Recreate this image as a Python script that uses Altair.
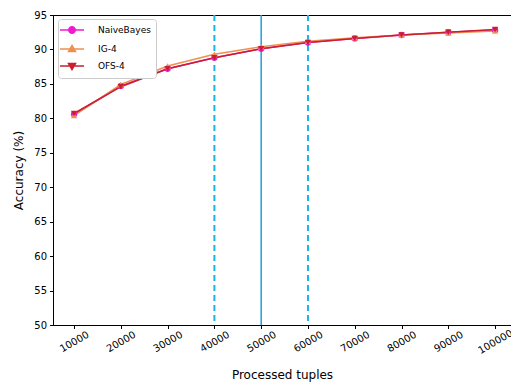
import altair as alt
import pandas as pd

tuples = [10000, 20000, 30000, 40000, 50000, 60000, 70000, 80000, 90000, 100000]
naive_bayes = [80.6, 84.7, 87.2, 88.8, 90.1, 91.0, 91.6, 92.1, 92.5, 92.8]
ig4 = [80.4, 84.9, 87.6, 89.3, 90.4, 91.2, 91.7, 92.1, 92.4, 92.7]
ofs4 = [80.7, 84.6, 87.2, 88.8, 90.1, 91.0, 91.6, 92.1, 92.5, 92.9]
series_names = ["NaiveBayes", "IG-4", "OFS-4"]
colors = ["#f01ad0", "#ee9050", "#c8202e"]
dashed_x = [40000, 60000]
solid_x = [50000]

rows = []
for name, vals in zip(series_names, [naive_bayes, ig4, ofs4]):
    for t, v in zip(tuples, vals):
        rows.append({"series": name, "tuples": t, "acc": v, "order": series_names.index(name)})
df = pd.DataFrame(rows)

xscale = alt.Scale(domain=[5500, 103400], nice=False, zero=False)
yscale = alt.Scale(domain=[50, 95], nice=False, zero=False)

xaxis = alt.Axis(values=tuples, title="Processed tuples", labelAngle=-30, labelAlign="center",
                 labelBaseline="middle", labelPadding=13, grid=False, tickSize=3.5,
                 labelFontSize=10, titleFontSize=12, titlePadding=14, titleFontWeight="normal",
                 format="d")
yaxis = alt.Axis(values=list(range(50, 96, 5)), title="Accuracy (%)", grid=False, tickSize=3.5,
                 labelPadding=3, labelFontSize=10, titleFontSize=12, titlePadding=8,
                 titleFontWeight="normal")

base = alt.Chart(df)

vdash = alt.Chart(pd.DataFrame({"x": dashed_x})).mark_rule(
    color="#1bb4e8", strokeWidth=2, strokeDash=[6, 4]
).encode(x=alt.X("x:Q", scale=xscale, axis=xaxis))
vsolid = alt.Chart(pd.DataFrame({"x": solid_x})).mark_rule(
    color="#1f9fd8", strokeWidth=1.5
).encode(x=alt.X("x:Q", scale=xscale, axis=xaxis))

lines = base.mark_line(strokeWidth=1.6).encode(
    x=alt.X("tuples:Q", scale=xscale, axis=xaxis),
    y=alt.Y("acc:Q", scale=yscale, axis=yaxis),
    color=alt.Color("series:N", scale=alt.Scale(domain=series_names, range=colors), legend=None),
    detail="series:N",
    order="order:Q",
)

points = base.mark_point(filled=True, size=40, opacity=1).encode(
    x=alt.X("tuples:Q", scale=xscale, axis=xaxis),
    y=alt.Y("acc:Q", scale=yscale, axis=yaxis),
    color=alt.Color("series:N", scale=alt.Scale(domain=series_names, range=colors), legend=None),
    shape=alt.Shape("series:N", scale=alt.Scale(domain=series_names,
                    range=["circle", "triangle-up", "triangle-down"]), legend=None),
    order="order:Q",
)

leg_paths = [
    "M-2.4,0H2.4M-0.65,0A0.65,0.65 0 1,0 0.65,0A0.65,0.65 0 1,0 -0.65,0Z",
    "M-2.4,0H2.4M0,-0.7L0.7,0.5L-0.7,0.5Z",
    "M-2.4,0H2.4M0,0.7L0.7,-0.5L-0.7,-0.5Z",
]

leg = alt.Legend(title=None, orient="none", legendX=5, legendY=4, fillColor="white",
                 strokeColor="#cccccc", padding=5, cornerRadius=3, symbolSize=100,
                 symbolOffset=3, labelOffset=20, rowPadding=5, labelFontSize=9,
                 symbolStrokeWidth=1.5, labelColor="#000000")

legend_layer = base.mark_point(filled=True, clip=True, strokeWidth=1.5, opacity=1).transform_calculate(
    yy="0", lseries="datum.series"
).encode(
    x=alt.X("tuples:Q", scale=xscale, axis=xaxis),
    y=alt.Y("yy:Q", scale=yscale, axis=yaxis),
    color=alt.Color("lseries:N", scale=alt.Scale(domain=series_names, range=colors), legend=leg),
    stroke=alt.Stroke("lseries:N", scale=alt.Scale(domain=series_names, range=colors), legend=leg),
    shape=alt.Shape("lseries:N", scale=alt.Scale(domain=series_names, range=leg_paths), legend=leg),
)

chart = alt.layer(vdash, vsolid, lines, points, legend_layer).resolve_scale(
    shape="independent", color="independent", stroke="independent"
).properties(
    width=458, height=310,
    padding={"left": 53, "top": 15, "right": 0, "bottom": 58},
    autosize=alt.AutoSizeParams(type="none"),
).configure_view(stroke="#000000", strokeWidth=1).configure_axis(
    domainColor="#000000", tickColor="#000000", labelColor="#000000", titleColor="#000000",
    labelFont="DejaVu Sans", titleFont="DejaVu Sans",
).configure_legend(labelFont="DejaVu Sans")

chart.save("out.html", embed_options={"renderer": "svg", "actions": False})
